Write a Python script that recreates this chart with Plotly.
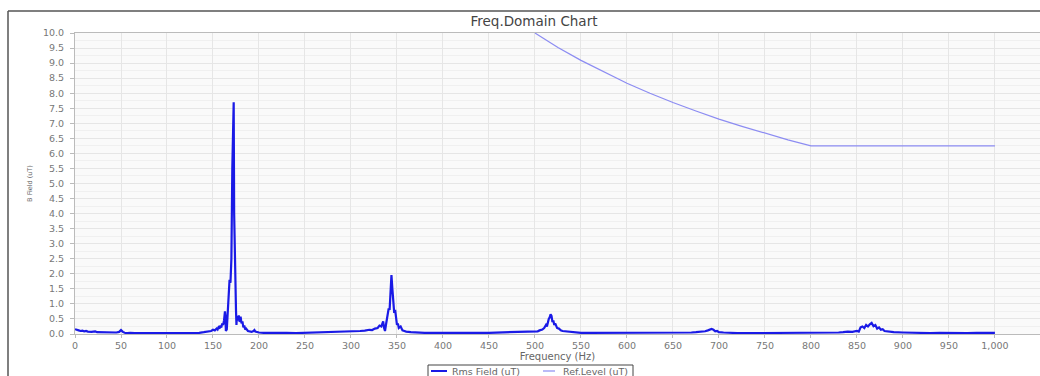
import plotly.graph_objects as go

# ---- data ----
rms_freq = [0, 2, 4, 6, 8, 10, 12, 14, 16, 18, 20, 22, 24, 26, 28, 30, 33, 36, 39, 42, 45, 48, 50, 52, 54, 57,
            60, 65, 70, 75, 80, 85, 90, 95, 100, 105, 110, 115, 120, 125, 130, 135, 140, 143, 146, 148, 150,
            152, 154, 155, 156, 157, 158, 159, 160, 161, 162, 163, 163.5, 164, 165, 166, 167, 168, 169, 170,
            171, 172.5, 173, 174, 174.5, 175, 175.5, 176, 177, 178, 179, 180, 181, 182, 183, 184, 185, 186,
            188, 190, 192, 194, 195, 196, 198, 200, 205, 210, 215, 220, 225, 230, 240, 250, 260, 270, 280,
            290, 300, 305, 310, 315, 320, 323, 326, 329, 331, 333, 334, 335, 336, 337, 338, 339, 340, 341,
            342, 343, 344, 345, 346, 347, 348, 349, 350, 351, 352, 354, 356, 358, 360, 365, 370, 380, 390,
            400, 410, 420, 430, 440, 450, 460, 470, 480, 490, 495, 500, 503, 505, 508, 510, 512, 513, 514,
            515, 516, 517, 518, 519, 520, 521, 522, 524, 526, 528, 530, 535, 540, 545, 550, 560, 570, 580,
            590, 600, 610, 620, 630, 640, 650, 660, 670, 675, 680, 685, 688, 690, 692, 694, 696, 698, 700,
            705, 710, 720, 730, 740, 750, 760, 770, 780, 790, 800, 810, 820, 830, 835, 840, 845, 848, 850,
            852, 854, 856, 858, 860, 862, 864, 866, 868, 870, 872, 874, 876, 878, 880, 885, 890, 900, 910,
            920, 930, 940, 950, 960, 970, 980, 990, 1000]
rms_value = [0.16, 0.13, 0.12, 0.10, 0.11, 0.09, 0.10, 0.08, 0.07, 0.07, 0.08, 0.09, 0.06, 0.06, 0.05, 0.05,
             0.04, 0.05, 0.04, 0.04, 0.05, 0.07, 0.13, 0.07, 0.04, 0.03,
             0.04, 0.03, 0.04, 0.03, 0.03, 0.04, 0.03, 0.03, 0.03, 0.04, 0.03, 0.03, 0.04, 0.04, 0.05, 0.04,
             0.06, 0.07, 0.08, 0.10, 0.14,
             0.12, 0.18, 0.15, 0.22, 0.18, 0.28, 0.22, 0.35, 0.30, 0.45, 0.75, 0.60, 0.10, 0.15, 0.60, 1.10,
             1.80, 1.70, 2.50,
             5.50, 7.70, 4.00, 1.50, 1.40, 0.80, 0.30, 0.60, 0.45, 0.62, 0.40, 0.58, 0.35, 0.42, 0.22, 0.28,
             0.15, 0.18,
             0.10, 0.09, 0.07, 0.10, 0.13, 0.08, 0.06, 0.05, 0.04, 0.05, 0.04, 0.04, 0.03, 0.04, 0.03, 0.04,
             0.04, 0.05, 0.05,
             0.06, 0.07, 0.08, 0.10, 0.11, 0.14, 0.13, 0.18, 0.20, 0.28, 0.25, 0.38, 0.42, 0.20, 0.10, 0.30,
             0.45, 0.60, 0.85,
             0.80, 1.30, 1.96, 1.50, 0.90, 0.70, 0.80, 0.40, 0.30, 0.35, 0.20, 0.25, 0.12, 0.10, 0.08, 0.06,
             0.05, 0.04, 0.04,
             0.03, 0.04, 0.04, 0.03, 0.04, 0.04, 0.05, 0.05, 0.06, 0.07, 0.08, 0.10, 0.09, 0.12, 0.15, 0.20,
             0.30, 0.25, 0.40,
             0.50, 0.55, 0.65, 0.60, 0.40, 0.45, 0.30, 0.35, 0.20, 0.18, 0.12, 0.10, 0.08, 0.06, 0.05, 0.04,
             0.04, 0.04, 0.03,
             0.03, 0.04, 0.03, 0.03, 0.04, 0.03, 0.04, 0.04, 0.05, 0.06, 0.07, 0.09, 0.12, 0.15, 0.17, 0.14,
             0.09, 0.10, 0.06,
             0.05, 0.04, 0.03, 0.03, 0.03, 0.03, 0.03, 0.03, 0.03, 0.03, 0.04, 0.04, 0.05, 0.05, 0.06, 0.08,
             0.07, 0.09, 0.10,
             0.08, 0.22, 0.25, 0.20, 0.30, 0.25, 0.32, 0.37, 0.26, 0.30, 0.18, 0.22, 0.14, 0.16, 0.10, 0.08,
             0.06, 0.05, 0.04,
             0.04, 0.03, 0.04, 0.03, 0.04, 0.03, 0.04, 0.03, 0.04]

ref_freq = [500, 525, 550, 575, 600, 625, 650, 675, 700, 725, 750, 775, 800, 1000]
ref_value = [10.0, 9.52, 9.09, 8.70, 8.33, 8.00, 7.69, 7.41, 7.14, 6.90, 6.67, 6.45, 6.25, 6.25]

x_ticks = list(range(0, 1001, 50))
x_tick_labels = [f"{v:,}" for v in x_ticks]
y_ticks = [i * 0.5 for i in range(21)]

series_names = ["Rms Field (uT)", "Ref.Level (uT)"]
series_colors = ["#1a1ae6", "#8c8cf2"]

fig = go.Figure()
fig.add_trace(go.Scatter(x=rms_freq, y=rms_value, mode="lines", name=series_names[0],
                         line=dict(color=series_colors[0], width=2.2), showlegend=False))
fig.add_trace(go.Scatter(x=ref_freq, y=ref_value, mode="lines", name=series_names[1],
                         line=dict(color=series_colors[1], width=1.2), showlegend=False))

axis_font = dict(family="DejaVu Sans", size=9.5, color="#777777")
fig.update_layout(
    width=1040, height=376,
    margin=dict(l=75, r=0, t=33, b=42),
    paper_bgcolor="white",
    plot_bgcolor="#fafafa",
    font=dict(family="DejaVu Sans", size=9, color="#555555"),
    title=dict(text="Freq.Domain Chart", x=534 / 1040, xanchor="center", y=1 - 21 / 376, yanchor="middle",
               font=dict(family="DejaVu Sans", size=13.5, color="#444444")),
    showlegend=False,
    xaxis=dict(range=[0, 1049], tickmode="array", tickvals=x_ticks, ticktext=x_tick_labels,
               showgrid=True, gridcolor="#e6e6e6", gridwidth=1, zeroline=False,
               showline=True, linecolor="#bbbbbb", linewidth=1, mirror=True,
               ticks="outside", ticklen=3, tickcolor="#bbbbbb", tickfont=axis_font,
               title=dict(text="Frequency (Hz)", font=dict(family="DejaVu Sans", size=10, color="#666666"),
                          standoff=1)),
    yaxis=dict(range=[0, 10], tickmode="array", tickvals=y_ticks, tickformat=".1f",
               showgrid=True, gridcolor="#e6e6e6", gridwidth=1, zeroline=False,
               showline=True, linecolor="#bbbbbb", linewidth=1, mirror=True,
               ticks="outside", ticklen=4, tickcolor="#bbbbbb", tickfont=axis_font,
               ticklabelstandoff=4,
               minor=dict(dtick=0.25, showgrid=True, gridcolor="#f0f0f0"),
               title=dict(text="B Field (uT)", font=dict(family="DejaVu Sans", size=6.5, color="#666666"),
                          standoff=9)),
)


def px(x):
    return (x - 75) / 965


def py(y):
    return (334 - y) / 301


# outer chart frame (top and left edges visible)
fig.add_shape(type="line", xref="paper", yref="paper", x0=px(8), x1=1.01,
              y0=py(11), y1=py(11), line=dict(color="#555555", width=1.5))
fig.add_shape(type="line", xref="paper", yref="paper", x0=px(8), x1=px(8),
              y0=py(11), y1=py(380), line=dict(color="#555555", width=1.5))

# legend box (drawn manually so the plot area keeps its size)
fig.add_shape(type="rect", xref="paper", yref="paper", x0=px(428), x1=px(633),
              y0=py(365), y1=py(380), line=dict(color="#444444", width=1), fillcolor="white")
legend_line_x = [431, 543]
legend_text_x = [450, 561]
for i, name in enumerate(series_names):
    fig.add_shape(type="line", xref="paper", yref="paper", x0=px(legend_line_x[i]),
                  x1=px(legend_line_x[i] + (16 if i == 0 else 12)),
                  y0=py(371), y1=py(371), line=dict(color=series_colors[i], width=2 if i == 0 else 1.2))
    fig.add_annotation(text=name, xref="paper", yref="paper", x=px(legend_text_x[i]), y=py(371),
                       xanchor="left", yanchor="middle", showarrow=False,
                       font=dict(family="DejaVu Sans", size=9.5, color="#666666"))

fig.write_html("out.html")
